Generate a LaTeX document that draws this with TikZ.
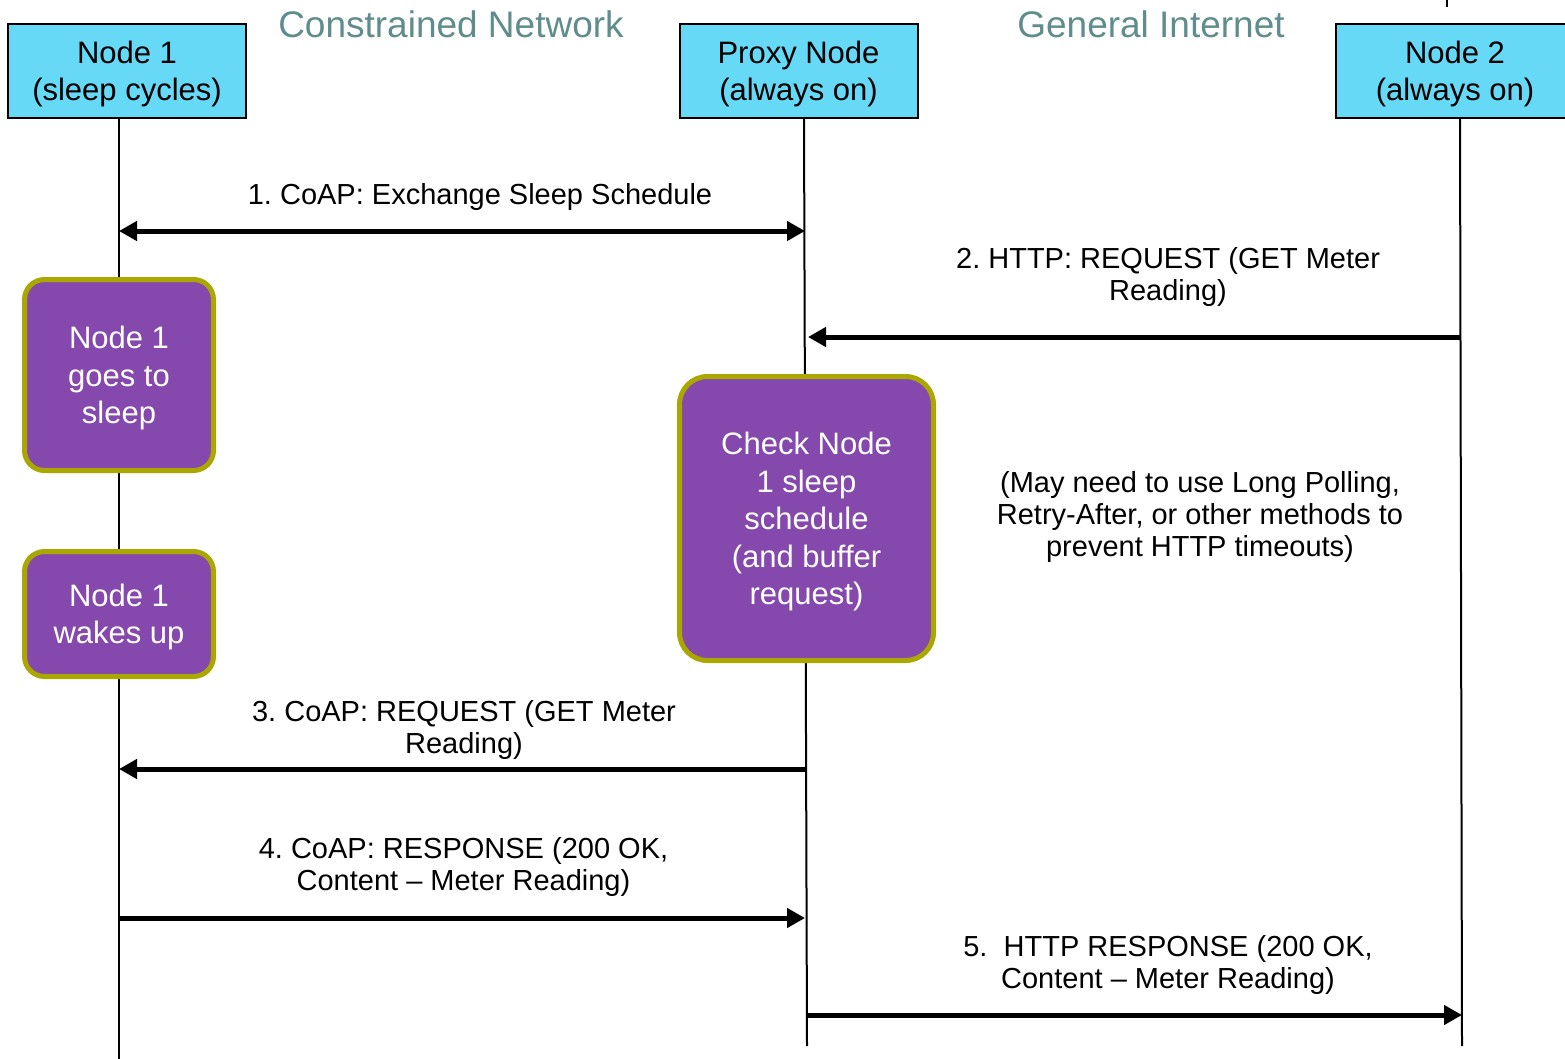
\documentclass[tikz,border=0pt]{standalone}
\usepackage{fontspec}
\setmainfont{Liberation Sans}
\usetikzlibrary{arrows.meta}
\definecolor{headfill}{RGB}{102,217,247}
\definecolor{actfill}{RGB}{133,73,174}
\definecolor{actedge}{RGB}{170,168,0}
\definecolor{zonetext}{RGB}{95,140,140}
\frenchspacing

\begin{document}
\begin{tikzpicture}[x=1pt,y=-1pt,
  >={Triangle[length=18pt,width=19pt]},
  head/.style={draw=black, line width=2pt, fill=headfill, minimum width=238pt,
    minimum height=94pt, inner sep=0pt},
  headtext/.style={align=center, inner sep=0pt, yshift=-3pt, font=\fontsize{31}{37}\selectfont},
  act/.style={draw=actedge, line width=5pt, fill=actfill, rounded corners=20pt, inner sep=0pt},
  acttext/.style={text=white, align=center, inner sep=0pt, yshift=-3pt, font=\fontsize{31}{37.5}\selectfont},
  msg/.style={line width=5pt, ->},
  life/.style={line width=2pt},
  lbl/.style={align=center, font=\fontsize{29}{32}\selectfont},
  zone/.style={text=zonetext, font=\fontsize{37}{44}\selectfont}]

\clip (0,0) rectangle (1565,1058);
\fill[white] (0,0) rectangle (1565,1058);

% zone titles
\node[zone] (zc) at (451,24) {Constrained Network};
\node[zone] (zg) at (1151,24) {General Internet};

% short mark on the top edge
\coordinate (tk1) at (1447,0);
\coordinate (tk2) at (1447,7);
\draw[life] (tk1) -- (tk2);

% lifeline end points
\coordinate (l1top) at (119,119);
\coordinate (l1bot) at (119,1060);
\coordinate (lptop) at (804,119);
\coordinate (lpbot) at (807,1046);
\coordinate (l2top) at (1460,119);
\coordinate (l2bot) at (1462,1046);

\draw[life] (l1top) -- (l1bot);
\draw[life] (lptop) -- (lpbot);
\draw[life] (l2top) -- (l2bot);

% participants
\node[head] (h1) at (127,71) {};
\node[head] (hp) at (798.5,71) {};
\node[head] (h2) at (1455,71) {};
\node[headtext] (h1t) at (h1) {Node 1\\(sleep cycles)};
\node[headtext] (hpt) at (hp) {Proxy Node\\(always on)};
\node[headtext] (h2t) at (h2) {Node 2\\(always on)};

% activity boxes
\node[act, minimum width=189pt, minimum height=191pt] (sleep) at (119,375) {};
\node[act, minimum width=189pt, minimum height=125pt] (wake) at (119,614) {};
\node[act, rounded corners=28pt, minimum width=254pt, minimum height=284pt] (check) at (806.5,518.5) {};
\node[acttext] (sleept) at (sleep) {Node 1\\goes to\\sleep};
\node[acttext] (waket) at (wake) {Node 1\\wakes up};
\node[acttext] (checkt) at (check) {Check Node\\1 sleep\\schedule\\(and buffer\\request)};

% message end points
\coordinate (m1a) at (119,231);  \coordinate (m1b) at (805,231);
\coordinate (m2a) at (1461,337); \coordinate (m2b) at (808,337);
\coordinate (m3a) at (805,769);  \coordinate (m3b) at (119,769);
\coordinate (m4a) at (119,918);  \coordinate (m4b) at (805,918);
\coordinate (m5a) at (807,1015); \coordinate (m5b) at (1462,1015);

\draw[line width=5pt, <->] (m1a) -- (m1b);
\draw[msg] (m2a) -- (m2b);
\draw[msg] (m3a) -- (m3b);
\draw[msg] (m4a) -- (m4b);
\draw[msg] (m5a) -- (m5b);

% message labels
\node[lbl] (t1) at (480,197) {1. CoAP: Exchange Sleep Schedule};
\node[lbl] (t2) at (1168,277) {2. HTTP: REQUEST (GET Meter\\Reading)};
\node[lbl] (t3) at (464,730) {3. CoAP: REQUEST (GET Meter\\Reading)};
\node[lbl] (t4) at (463.5,867) {4. CoAP: RESPONSE (200 OK,\\Content – Meter Reading)};
\node[lbl] (t5) at (1168,965) {5.\ \ HTTP RESPONSE (200 OK,\\Content – Meter Reading)};
\node[lbl] (note) at (1200,517) {(May need to use Long Polling,\\Retry-After, or other methods to\\prevent HTTP timeouts)};
\end{tikzpicture}
\end{document}
